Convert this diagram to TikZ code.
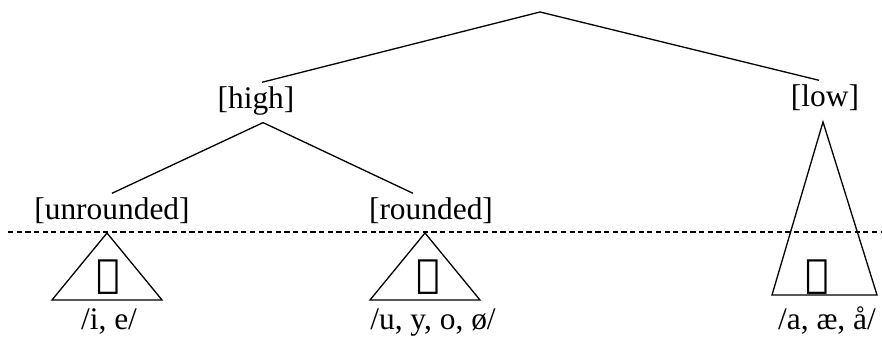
\documentclass[tikz,border=0pt]{standalone}
\usepackage{fontspec}
\setmainfont{Liberation Serif}
\newfontfamily\runefont{DejaVu Sans}

\tikzset{
    feat/.style={anchor=base, inner sep=2.5pt, text height=0.75em, text depth=0.25em},
    leaf/.style={anchor=base, inner sep=0pt},
    rune/.style={inner sep=0pt, font=\runefont\fontsize{15}{15}\selectfont},
    branch/.style={line width=0.5pt},
}

\begin{document}
\begin{tikzpicture}[x=0.382pt, y=-0.382pt, font=\fontsize{12}{14}\selectfont]
    \useasboundingbox (0,0) rectangle (882,337);

    % Feature nodes
    \coordinate (root) at (540,12);
    \node[feat] (high) at (256,109) {[high]};
    \node[feat] (low)  at (825,107) {[low]};
    \node[feat] (unr)  at (112,220) {[unrounded]};
    \node[feat] (rnd)  at (431,220) {[rounded]};

    % Branches
    \draw[branch] (root) -- ([xshift=2.3pt]high.north);
    \draw[branch] (root) -- ([xshift=-2.3pt]low.north);
    \draw[branch] ([xshift=2.7pt]high.south) -- (unr.north);
    \draw[branch] ([xshift=2.7pt]high.south) -- ([xshift=-6.9pt]rnd.north);

    % Dividing line
    \draw[line width=0.5pt, dash pattern=on 2pt off 1.3pt] (8,232) -- (882,232);

    % Triangles
    \coordinate (t1) at (107,233);
    \coordinate (t2) at (425,233);
    \coordinate (t3) at (823,122);
    \draw[branch] (t1) -- ++(-55,67) -- ++(110,0) -- cycle;
    \draw[branch] (t2) -- ++(-55,67) -- ++(110,0) -- cycle;
    \draw[branch] (t3) -- (772,295) -- (877,295) -- cycle;

    % Runes
    \node[rune] (r1) at (108,277) {ᛁ};
    \node[rune] (r2) at (428,277) {ᚢ};
    \node[rune] (r3) at (817,277) {ᛅ};

    % Vowels
    \node[leaf] (v1) at (109,330) {/i, e/};
    \node[leaf] (v2) at (433,330) {/u, y, o, ø/};
    \node[leaf] (v3) at (827,330) {/a, æ, å/};

\end{tikzpicture}
\end{document}
